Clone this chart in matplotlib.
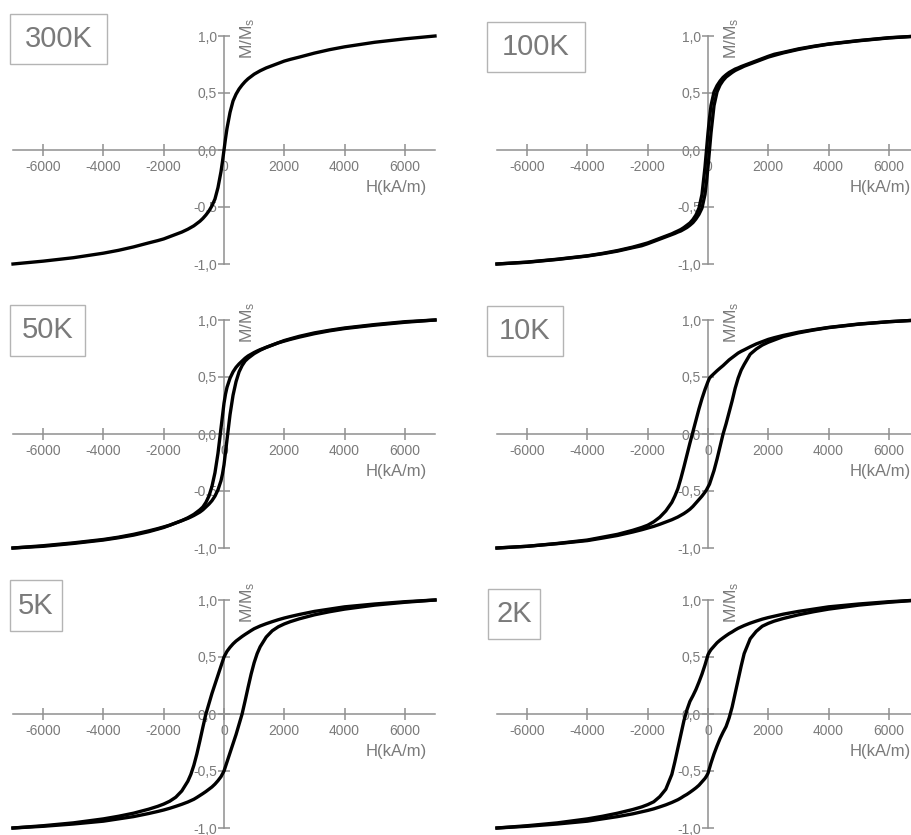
import matplotlib; matplotlib.use("Agg")
import matplotlib.pyplot as plt
from matplotlib.patches import Rectangle

plt.rcParams['font.family'] = ['Liberation Sans', 'DejaVu Sans']
plt.rcParams['mathtext.default'] = 'regular'

# field grid (kA/m) shared by all panels
H = [-7000, -6000, -5000, -4000, -3500, -3000, -2500, -2200, -2000, -1800, -1600, -1400, -1200,
     -1100, -1000, -900, -800, -700, -600, -500, -400, -300, -200, -100, -50,
     0,
     50, 100, 200, 300, 400, 500, 600, 700, 800, 900, 1000, 1100, 1200,
     1400, 1600, 1800, 2000, 2200, 2500, 3000, 3500, 4000, 5000, 6000, 7000]

# M/Ms: DOWN = branch coming from +saturation, UP = from -saturation
M_300K = [-1.0, -0.975, -0.945, -0.905, -0.88, -0.85, -0.815, -0.795, -0.78, -0.76, -0.74, -0.72, -0.695,
          -0.68, -0.665, -0.645, -0.625, -0.60, -0.57, -0.535, -0.49, -0.43, -0.33, -0.19, -0.10,
          0.0,
          0.10, 0.19, 0.33, 0.43, 0.49, 0.535, 0.57, 0.60, 0.625, 0.645, 0.665, 0.68, 0.695,
          0.72, 0.74, 0.76, 0.78, 0.795, 0.815, 0.85, 0.88, 0.905, 0.945, 0.975, 1.0]

M_100K_DOWN = [-1.0, -0.983, -0.958, -0.928, -0.907, -0.882, -0.852, -0.83, -0.815, -0.795, -0.775, -0.755, -0.735,
               -0.722, -0.71, -0.697, -0.68, -0.66, -0.64, -0.61, -0.57, -0.51, -0.39, -0.15, 0.0,
               0.15,
               0.28, 0.39, 0.51, 0.565, 0.605, 0.637, 0.66, 0.68, 0.695, 0.71, 0.72, 0.732, 0.742,
               0.762, 0.782, 0.802, 0.822, 0.84, 0.857, 0.887, 0.91, 0.93, 0.96, 0.985, 1.0]
M_100K_UP = [-1.0, -0.985, -0.96, -0.93, -0.91, -0.887, -0.857, -0.84, -0.822, -0.802, -0.782, -0.762, -0.742,
             -0.732, -0.72, -0.71, -0.695, -0.68, -0.66, -0.637, -0.605, -0.565, -0.51, -0.39, -0.28,
             -0.15,
             0.0, 0.15, 0.39, 0.51, 0.57, 0.61, 0.64, 0.66, 0.68, 0.697, 0.71, 0.722, 0.735,
             0.755, 0.775, 0.795, 0.815, 0.83, 0.852, 0.882, 0.907, 0.928, 0.958, 0.983, 1.0]

M_50K_DOWN = [-1.0, -0.98, -0.955, -0.925, -0.905, -0.88, -0.85, -0.83, -0.815, -0.80, -0.78, -0.76, -0.735,
              -0.72, -0.705, -0.685, -0.665, -0.64, -0.60, -0.545, -0.46, -0.34, -0.17, 0.05, 0.16,
              0.27,
              0.35, 0.41, 0.49, 0.545, 0.585, 0.615, 0.64, 0.665, 0.685, 0.70, 0.715, 0.728, 0.74,
              0.76, 0.78, 0.80, 0.82, 0.835, 0.857, 0.887, 0.91, 0.93, 0.96, 0.985, 1.0]
M_50K_UP = [-1.0, -0.985, -0.96, -0.93, -0.91, -0.887, -0.857, -0.835, -0.82, -0.80, -0.78, -0.76, -0.74,
            -0.728, -0.715, -0.70, -0.685, -0.665, -0.64, -0.615, -0.585, -0.545, -0.49, -0.41, -0.35,
            -0.27,
            -0.16, -0.05, 0.17, 0.34, 0.46, 0.545, 0.60, 0.64, 0.665, 0.685, 0.705, 0.72, 0.735,
            0.76, 0.78, 0.80, 0.815, 0.83, 0.85, 0.88, 0.905, 0.925, 0.955, 0.98, 1.0]

M_10K_DOWN = [-1.0, -0.985, -0.96, -0.93, -0.905, -0.88, -0.845, -0.82, -0.80, -0.77, -0.73, -0.675, -0.60,
              -0.545, -0.48, -0.39, -0.29, -0.185, -0.08, 0.02, 0.12, 0.22, 0.31, 0.39, 0.425,
              0.46,
              0.49, 0.505, 0.53, 0.555, 0.578, 0.60, 0.625, 0.65, 0.67, 0.69, 0.71, 0.725, 0.738,
              0.765, 0.79, 0.81, 0.83, 0.845, 0.865, 0.893, 0.915, 0.935, 0.965, 0.985, 1.0]
M_10K_UP = [-1.0, -0.985, -0.962, -0.935, -0.913, -0.89, -0.86, -0.84, -0.825, -0.81, -0.792, -0.772, -0.752,
            -0.74, -0.728, -0.713, -0.698, -0.68, -0.66, -0.635, -0.605, -0.575, -0.545, -0.51, -0.49,
            -0.465,
            -0.44, -0.40, -0.32, -0.22, -0.11, 0.0, 0.09, 0.19, 0.29, 0.40, 0.49, 0.56, 0.61,
            0.70, 0.745, 0.78, 0.805, 0.825, 0.855, 0.887, 0.912, 0.933, 0.963, 0.985, 1.0]

M_5K_DOWN = [-1.0, -0.98, -0.955, -0.92, -0.897, -0.87, -0.835, -0.81, -0.79, -0.765, -0.73, -0.675, -0.59,
             -0.53, -0.45, -0.35, -0.235, -0.115, 0.0, 0.09, 0.18, 0.26, 0.34, 0.42, 0.46,
             0.50,
             0.525, 0.55, 0.585, 0.615, 0.64, 0.66, 0.68, 0.698, 0.715, 0.732, 0.748, 0.76, 0.772,
             0.792, 0.81, 0.827, 0.842, 0.855, 0.873, 0.90, 0.92, 0.94, 0.965, 0.985, 1.0]
M_5K_UP = [-1.0, -0.985, -0.965, -0.94, -0.92, -0.90, -0.873, -0.855, -0.842, -0.827, -0.81, -0.792, -0.772,
           -0.76, -0.748, -0.732, -0.715, -0.698, -0.68, -0.66, -0.64, -0.615, -0.585, -0.55, -0.525,
           -0.50,
           -0.46, -0.42, -0.34, -0.26, -0.18, -0.09, 0.0, 0.115, 0.235, 0.35, 0.45, 0.53, 0.59,
           0.675, 0.73, 0.765, 0.79, 0.81, 0.835, 0.87, 0.897, 0.92, 0.955, 0.98, 1.0]

M_2K_DOWN = [-1.0, -0.98, -0.955, -0.92, -0.897, -0.87, -0.838, -0.815, -0.795, -0.77, -0.725, -0.66, -0.53,
             -0.42, -0.30, -0.18, -0.06, 0.035, 0.11, 0.16, 0.215, 0.28, 0.35, 0.43, 0.475,
             0.52,
             0.545, 0.565, 0.595, 0.625, 0.648, 0.668, 0.687, 0.705, 0.72, 0.737, 0.752, 0.764, 0.776,
             0.797, 0.815, 0.832, 0.846, 0.858, 0.876, 0.90, 0.92, 0.94, 0.965, 0.985, 1.0]
M_2K_UP = [-1.0, -0.985, -0.965, -0.94, -0.92, -0.90, -0.876, -0.858, -0.846, -0.832, -0.815, -0.797, -0.776,
           -0.764, -0.752, -0.737, -0.72, -0.705, -0.687, -0.668, -0.648, -0.625, -0.595, -0.565, -0.545,
           -0.52,
           -0.475, -0.43, -0.35, -0.28, -0.215, -0.16, -0.11, -0.035, 0.06, 0.18, 0.30, 0.42, 0.53,
           0.66, 0.725, 0.77, 0.795, 0.815, 0.838, 0.87, 0.897, 0.92, 0.955, 0.98, 1.0]

X_TICKS = [-6000, -4000, -2000, 0, 2000, 4000, 6000]
X_TICK_LABELS = ['-6000', '-4000', '-2000', '0', '2000', '4000', '6000']
Y_TICKS = [-1.0, -0.5, 0.0, 0.5, 1.0]
Y_TICK_LABELS = ['-1,0', '-0,5', '0,0', '0,5', '1,0']

panels = [
    ('300K', [M_300K]),
    ('100K', [M_100K_DOWN, M_100K_UP]),
    ('50K', [M_50K_DOWN, M_50K_UP]),
    ('10K', [M_10K_DOWN, M_10K_UP]),
    ('5K', [M_5K_DOWN, M_5K_UP]),
    ('2K', [M_2K_DOWN, M_2K_UP]),
]

W, Hpx = 911, 835
AXIS_GRAY = '#8f8f8f'
TEXT_GRAY = '#7a7a7a'

# axes boxes in pixels (right column runs past the figure edge, as in the original)
col_x = [(13, 435), (497, 919)]
row_y = [(36, 264), (320, 548), (600, 828)]
# label boxes in pixels: left, top, right, bottom
label_boxes = [(10, 14, 107, 64), (487, 22, 585, 72),
               (10, 305, 85, 356), (487, 306, 563, 356),
               (10, 580, 62, 631), (488, 589, 540, 639)]

fig = plt.figure(figsize=(W / 100, Hpx / 100), dpi=100)

for i, (name, branches) in enumerate(panels):
    r, c = divmod(i, 2)
    x0, x1 = col_x[c]
    y0, y1 = row_y[r]
    ax = fig.add_axes([x0 / W, 1 - y1 / Hpx, (x1 - x0) / W, (y1 - y0) / Hpx])
    ax.patch.set_alpha(0)
    for m in branches:
        ax.plot(H, m, color='black', lw=2.4, clip_on=False, zorder=3)
    ax.set_xlim(-7000, 7000)
    ax.set_ylim(-1, 1)
    for s in ['top', 'right']:
        ax.spines[s].set_visible(False)
    for s in ['left', 'bottom']:
        ax.spines[s].set_position(('data', 0))
        ax.spines[s].set_color(AXIS_GRAY)
        ax.spines[s].set_linewidth(1.1)
    ax.set_xticks(X_TICKS)
    ax.set_xticklabels(X_TICK_LABELS)
    ax.set_yticks(Y_TICKS)
    ax.set_yticklabels(Y_TICK_LABELS)
    ax.tick_params(direction='inout', length=8, width=1.1, color=AXIS_GRAY,
                   labelcolor=TEXT_GRAY, labelsize=10)
    ax.tick_params(axis='x', pad=3)
    ax.tick_params(axis='y', pad=1)
    ax.text(6730, -0.26, 'H(kA/m)', ha='right', va='top', fontsize=12, color=TEXT_GRAY)
    ax.text(780, 0.80, 'M/M$_{s}$', ha='center', va='bottom', rotation=90,
            fontsize=12.5, color=TEXT_GRAY)

    bl, bt, br, bb = label_boxes[i]
    fig.add_artist(Rectangle((bl / W, 1 - bb / Hpx), (br - bl) / W, (bb - bt) / Hpx,
                             transform=fig.transFigure, fill=False,
                             edgecolor='#b4b4b4', lw=1.0))
    fig.text((bl + br) / 2 / W, 1 - (bt + bb) / 2 / Hpx, name, ha='center', va='center',
             fontsize=21, color=TEXT_GRAY)

fig.savefig('out.png', dpi=100)
